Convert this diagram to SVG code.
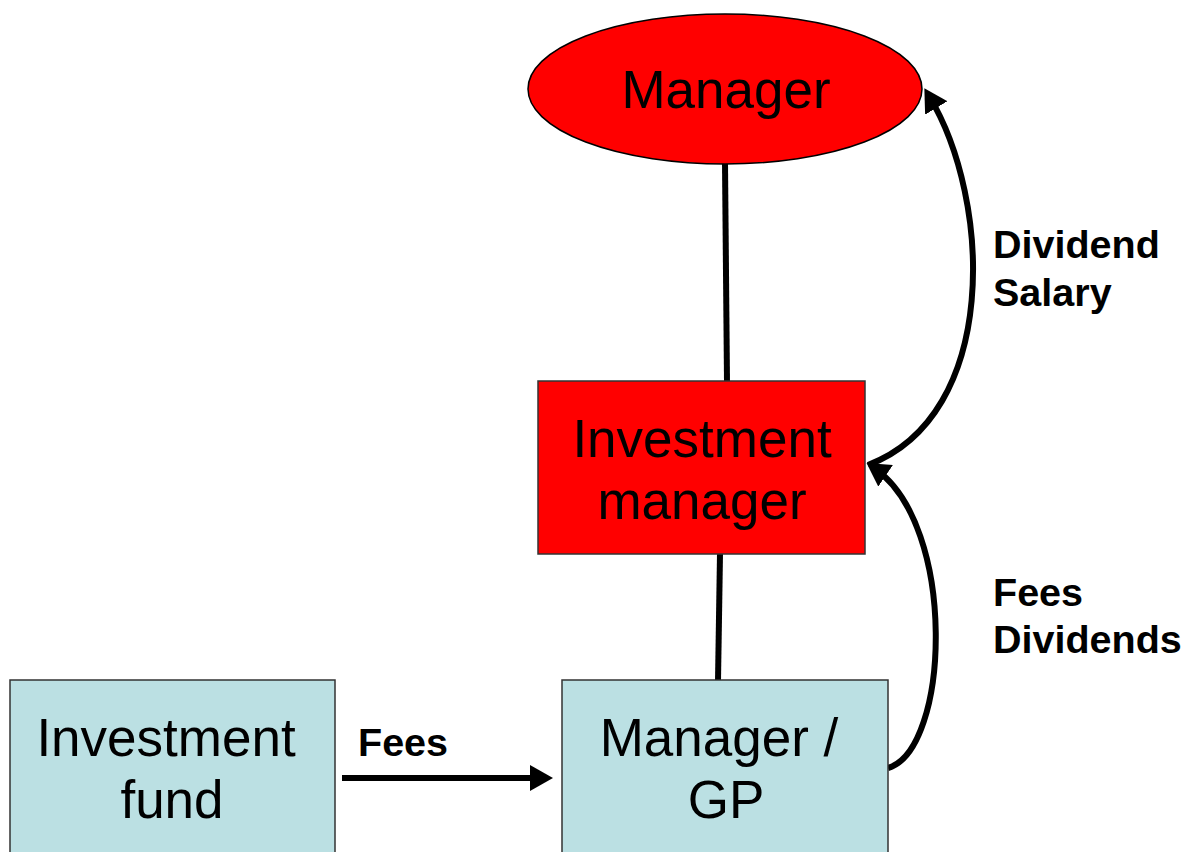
<svg xmlns="http://www.w3.org/2000/svg" width="1186" height="852" viewBox="0 0 1186 852">
<style>
.lbl{font-family:"Liberation Sans",Arial,sans-serif;font-size:53px;fill:#000;text-anchor:middle}
.edge{font-family:"Liberation Sans",Arial,sans-serif;font-size:39.5px;font-weight:bold;fill:#000}
.red{fill:#FF0000;stroke:#333;stroke-width:1.5}
.blue{fill:#BBE0E3;stroke:#333;stroke-width:1.5}
.conn{fill:none;stroke:#000;stroke-width:6}
</style>
<defs>
<marker id="ah" markerUnits="userSpaceOnUse" markerWidth="23" markerHeight="26" viewBox="0 0 23 26" refX="14" refY="13" orient="auto">
<path d="M0,0 L23,13 L0,26 z" fill="#000"/>
</marker>
</defs>
<g id="connectors">
<line class="conn" x1="725" y1="163" x2="727" y2="382"/>
<line class="conn" x1="720" y1="554" x2="718" y2="681"/>
<line class="conn" x1="342" y1="778" x2="544" y2="778" marker-end="url(#ah)"/>
<path class="conn" d="M888,768 C950,750 958,525 874,468" marker-end="url(#ah)"/>
<path class="conn" d="M868,465 C1000,415 992,200 929,96" marker-end="url(#ah)"/>
</g>
<g id="manager">
<ellipse class="red" cx="725" cy="89" rx="197" ry="75" style="stroke:#000"/>
<text class="lbl" x="726" y="108">Manager</text>
</g>
<g id="investment-manager">
<rect class="red" x="538" y="381" width="327" height="173"/>
<text class="lbl" x="702" y="457">Investment</text>
<text class="lbl" x="702" y="519">manager</text>
</g>
<g id="investment-fund">
<rect class="blue" x="10" y="680" width="325" height="190"/>
<text class="lbl" x="166" y="756">Investment</text>
<text class="lbl" x="172" y="818">fund</text>
</g>
<g id="manager-gp">
<rect class="blue" x="562" y="680" width="326" height="190"/>
<text class="lbl" x="719" y="756">Manager /</text>
<text class="lbl" x="726" y="818">GP</text>
</g>
<g id="labels">
<text class="edge" x="358" y="756">Fees</text>
<text class="edge" x="993" y="258">Dividend</text>
<text class="edge" x="993" y="306">Salary</text>
<text class="edge" x="993" y="606">Fees</text>
<text class="edge" x="993" y="653">Dividends</text>
</g>
</svg>
